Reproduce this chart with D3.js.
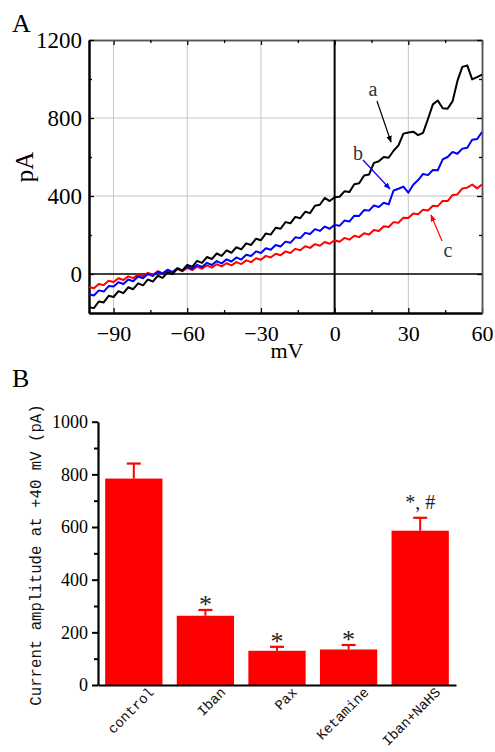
<!DOCTYPE html>
<html><head><meta charset="utf-8">
<script src="https://cdn.jsdelivr.net/npm/d3@7"></script>
<style>body{margin:0;background:#fff} svg{display:block}</style>
</head><body>
<svg id="c" width="495" height="752"></svg>
<script>
// ---------- Panel A data ----------
const voltage = [
  -100,-98,-96,-94,-92,-90,-88,-86,-84,-82,
  -80,-78,-76,-74,-72,-70,-68,-66,-64,-62,
  -60,-58,-56,-54,-52,-50,-48,-46,-44,-42,
  -40,-38,-36,-34,-32,-30,-28,-26,-24,-22,
  -20,-18,-16,-14,-12,-10,-8,-6,-4,-2,
  0,2,4,6,8,10,12,14,16,18,
  20,22,24,26,28,30,32,34,36,38,
  40,42,44,46,48,50,52,54,56,58,
  60];
const currentA = [
  -170,-175,-141,-146,-112,-118,-88,-98,-68,-78,
  -48,-58,-28,-39,-9,-20,10,-1,28,18,
  47,37,67,57,87,77,105,93,121,109,
  137,126,157,149,181,173,208,202,237,232,
  266,260,293,286,319,312,350,355,390,374,
  394,396,424,420,460,465,505,510,570,578,
  600,596,632,660,720,726,730,712,724,795,
  870,890,850,848,885,990,1062,1070,998,1010,
  1022];
const currentB = [
  -104,-110,-84,-90,-62,-64,-42,-51,-28,-37,
  -13,-22,0,-10,12,2,22,10,30,17,
  37,26,47,36,57,46,66,54,75,64,
  85,74,99,92,116,108,132,124,149,141,
  166,160,188,184,211,205,230,221,243,232,
  252,247,274,269,299,298,328,325,351,344,
  365,357,428,437,448,417,458,482,513,507,
  533,532,588,600,626,617,643,647,688,692,
  728];
const currentC = [
  -66,-73,-51,-57,-35,-41,-22,-31,-12,-21,
  -3,-12,6,-4,14,3,20,9,26,14,
  31,20,38,27,44,33,50,39,55,44,
  61,51,70,61,81,73,93,85,104,96,
  116,108,129,122,142,134,153,145,164,155,
  173,165,185,176,196,189,209,203,226,221,
  245,241,266,263,289,287,310,306,330,326,
  350,348,375,374,405,408,439,443,459,439,
  459];
const seriesNames = ["a","b","c"];
const seriesColors = ["#000000","#0000ff","#ff0000"];
const xTicksA = [-90,-60,-30,0,30,60];
const xMinorA = [-75,-45,-15,15,45];
const yTicksA = [0,400,800,1200];
const yMinorA = [200,600,1000];
const xGridA = [-90,-60,-30,30];
const yGridA = [400,800];

// ---------- Panel B data ----------
const categories = ["control","Iban","Pax","Ketamine","Iban+NaHS"];
const means = [784,263,130,135,586];
const sems = [57,22,15,17,49];
const marks = ["","*","*","*","*, #"];
const yTicksB = [0,200,400,600,800,1000];
const yMinorB = [100,300,500,700,900];

const svg = d3.select("#c");
const serif = "'Liberation Serif','Times New Roman',serif";
const mono = "'Liberation Mono','DejaVu Sans Mono',monospace";
const plain = d => String(d);

// ================= PANEL A =================
const xA = d3.scaleLinear().domain([-100,60]).range([89,482]);
const yA = d3.scaleLinear().domain([-200,1200]).range([313,40]);
const gA = svg.append("g");

gA.selectAll(".gx").data(xGridA).join("line")
  .attr("x1",d=>xA(d)).attr("x2",d=>xA(d)).attr("y1",yA(1200)).attr("y2",yA(-200))
  .attr("stroke","#c4c4c4").attr("stroke-width",1);
gA.selectAll(".gy").data(yGridA).join("line")
  .attr("x1",xA(-100)).attr("x2",xA(60)).attr("y1",d=>yA(d)).attr("y2",d=>yA(d))
  .attr("stroke","#c4c4c4").attr("stroke-width",1);

function styleAxis(g, w){
  g.select(".domain").attr("stroke","#000").attr("stroke-width",w);
  g.selectAll(".tick line").attr("stroke","#000").attr("stroke-width",1.3);
  g.selectAll("text").attr("font-family",serif).attr("fill","#000");
}
const fmtA = d => d<0 ? "\u2212"+Math.abs(d) : String(d);
const axB = gA.append("g").attr("transform",`translate(0,${yA(-200)})`)
  .call(d3.axisBottom(xA).tickValues(xTicksA).tickSize(-5).tickSizeOuter(0).tickPadding(12).tickFormat(fmtA));
styleAxis(axB,2); axB.selectAll("text").attr("font-size",22);
const axBm = gA.append("g").attr("transform",`translate(0,${yA(-200)})`)
  .call(d3.axisBottom(xA).tickValues(xMinorA).tickSize(-3).tickSizeOuter(0).tickFormat(""));
styleAxis(axBm,2);
const axT = gA.append("g").attr("transform",`translate(0,${yA(1200)})`)
  .call(d3.axisTop(xA).tickValues(xTicksA).tickSize(-5).tickSizeOuter(0).tickFormat(""));
styleAxis(axT,1.5); axT.select(".domain").attr("stroke","#555");
const axTm = gA.append("g").attr("transform",`translate(0,${yA(1200)})`)
  .call(d3.axisTop(xA).tickValues(xMinorA).tickSize(-3).tickSizeOuter(0).tickFormat(""));
styleAxis(axTm,1.5); axTm.select(".domain").attr("stroke","#555");
const axL = gA.append("g").attr("transform",`translate(${xA(-100)},0)`)
  .call(d3.axisLeft(yA).tickValues(yTicksA).tickSize(-5).tickSizeOuter(0).tickPadding(7).tickFormat(plain));
styleAxis(axL,2); axL.selectAll("text").attr("font-size",23);
const axLm = gA.append("g").attr("transform",`translate(${xA(-100)},0)`)
  .call(d3.axisLeft(yA).tickValues(yMinorA).tickSize(-3).tickSizeOuter(0).tickFormat(""));
styleAxis(axLm,2);
const axR = gA.append("g").attr("transform",`translate(${xA(60)},0)`)
  .call(d3.axisRight(yA).tickValues(yTicksA).tickSize(-5).tickSizeOuter(0).tickFormat(""));
styleAxis(axR,1.5); axR.select(".domain").attr("stroke","#555");
const axRm = gA.append("g").attr("transform",`translate(${xA(60)},0)`)
  .call(d3.axisRight(yA).tickValues(yMinorA).tickSize(-3).tickSizeOuter(0).tickFormat(""));
styleAxis(axRm,1.5); axRm.select(".domain").attr("stroke","#555");

gA.append("line").attr("x1",xA(-100)).attr("x2",xA(60)).attr("y1",yA(0)).attr("y2",yA(0))
  .attr("stroke","#000").attr("stroke-width",1.6);
gA.append("line").attr("x1",xA(0)).attr("x2",xA(0)).attr("y1",yA(1200)).attr("y2",yA(-200))
  .attr("stroke","#000").attr("stroke-width",2);

const seriesVals = [currentA,currentB,currentC];
const line = d3.line().x((d,i)=>xA(voltage[i])).y(d=>yA(d));
gA.append("defs").append("clipPath").attr("id","clipA").append("rect")
  .attr("x",xA(-100)).attr("y",yA(1200)).attr("width",xA(60)-xA(-100)).attr("height",yA(-200)-yA(1200));
const curves = gA.append("g").attr("clip-path","url(#clipA)");
[2,1,0].forEach(k=>{
  curves.append("path").datum(seriesVals[k]).attr("d",line)
    .attr("fill","none").attr("stroke",seriesColors[k]).attr("stroke-width",2).attr("stroke-linejoin","round");
});

const defs = svg.append("defs");
seriesColors.forEach((c,i)=>{
  defs.append("marker").attr("id","ah"+i).attr("viewBox","0 0 10 10").attr("refX",9).attr("refY",5)
    .attr("markerWidth",7).attr("markerHeight",7).attr("markerUnits","userSpaceOnUse").attr("orient","auto")
    .append("path").attr("d","M0,1 L10,5 L0,9 Z").attr("fill",c);
});
const annot = [
  {name:seriesNames[0], tx:373, ty:96, x1:377, y1:101, x2:391, y2:142},
  {name:seriesNames[1], tx:358, ty:160, x1:363, y1:160, x2:390, y2:189},
  {name:seriesNames[2], tx:448, ty:257, x1:442, y1:241, x2:431, y2:215}
];
annot.forEach((a,i)=>{
  gA.append("line").attr("x1",a.x1).attr("y1",a.y1).attr("x2",a.x2).attr("y2",a.y2)
    .attr("stroke",seriesColors[i]).attr("stroke-width",1.2).attr("marker-end",`url(#ah${i})`);
  gA.append("text").attr("x",a.tx).attr("y",a.ty).attr("text-anchor","middle")
    .attr("font-family",serif).attr("font-size",20).attr("fill","#333").text(a.name);
});

gA.append("text").attr("x",12).attr("y",32).attr("font-family",serif).attr("font-size",26).text("A");
gA.append("text").attr("transform","translate(33,167) rotate(-90)").attr("text-anchor","middle")
  .attr("font-family",serif).attr("font-size",25).text("pA");
gA.append("text").attr("x",287).attr("y",358).attr("text-anchor","middle")
  .attr("font-family",serif).attr("font-size",22).text("mV");

// ================= PANEL B =================
const gB = svg.append("g");
const xB = d3.scaleBand().domain(categories).range([98,456]).paddingInner(0.2).paddingOuter(0.1);
const yB = d3.scaleLinear().domain([0,1000]).range([685,421.7]);

gB.append("text").attr("x",12).attr("y",387).attr("font-family",serif).attr("font-size",26).text("B");

gB.selectAll(".bar").data(categories).join("rect")
  .attr("x",d=>xB(d)).attr("width",xB.bandwidth())
  .attr("y",(d,i)=>yB(means[i])).attr("height",(d,i)=>yB(0)-yB(means[i]))
  .attr("fill","#ff0000");
gB.selectAll(".eb").data(categories).join("line")
  .attr("x1",d=>xB(d)+xB.bandwidth()/2).attr("x2",d=>xB(d)+xB.bandwidth()/2)
  .attr("y1",(d,i)=>yB(means[i])).attr("y2",(d,i)=>yB(means[i]+sems[i]))
  .attr("stroke","#ff0000").attr("stroke-width",2);
gB.selectAll(".cap").data(categories).join("line")
  .attr("x1",d=>xB(d)+xB.bandwidth()/2-7).attr("x2",d=>xB(d)+xB.bandwidth()/2+7)
  .attr("y1",(d,i)=>yB(means[i]+sems[i])).attr("y2",(d,i)=>yB(means[i]+sems[i]))
  .attr("stroke","#ff0000").attr("stroke-width",2.2);
gB.selectAll(".mk").data(categories).join("text")
  .attr("x",d=>xB(d)+xB.bandwidth()/2)
  .attr("y",(d,i)=>yB(means[i]+sems[i]) - (marks[i].length>1 ? 9 : -3))
  .attr("text-anchor","middle").attr("font-family",serif).attr("font-size",(d,i)=>marks[i].length>1?20:26)
  .attr("fill","#222").text((d,i)=>marks[i]);

const axBL = gB.append("g").attr("transform",`translate(98,0)`)
  .call(d3.axisLeft(yB).tickValues(yTicksB).tickSize(6).tickSizeOuter(0).tickPadding(4).tickFormat(plain));
axBL.select(".domain").attr("stroke","#000").attr("stroke-width",2.2);
axBL.selectAll(".tick line").attr("stroke","#000").attr("stroke-width",2);
axBL.selectAll("text").attr("font-family",serif).attr("font-size",18).attr("fill","#000");
const axBLm = gB.append("g").attr("transform",`translate(98,0)`)
  .call(d3.axisLeft(yB).tickValues(yMinorB).tickSize(4).tickSizeOuter(0).tickFormat(""));
axBLm.select(".domain").remove();
axBLm.selectAll(".tick line").attr("stroke","#000").attr("stroke-width",2);
const axBB = gB.append("g").attr("transform",`translate(0,${yB(0)})`)
  .call(d3.axisBottom(xB).tickSize(0).tickSizeOuter(0).tickFormat(""));
axBB.select(".domain").attr("stroke","#000").attr("stroke-width",2.2);

gB.selectAll(".cl").data(categories).join("text")
  .attr("transform",d=>`translate(${xB(d)+xB.bandwidth()/2+21},693) rotate(-45)`)
  .attr("text-anchor","end").attr("font-family",mono).attr("font-size",14).attr("fill","#111").text(d=>d);

gB.append("text").attr("transform","translate(41,555) rotate(-90)").attr("text-anchor","middle")
  .attr("font-family",mono).attr("font-size",15.7).attr("fill","#111").text("Current amplitude at +40 mV (pA)");
</script>
</body></html>
